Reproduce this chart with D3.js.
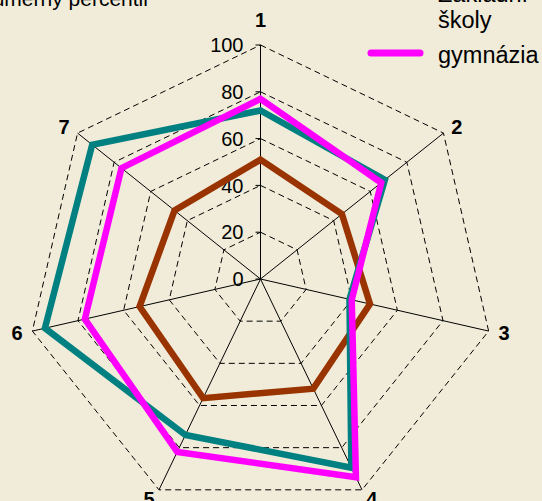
<!DOCTYPE html>
<html>
<head>
<meta charset="utf-8">
<script src="https://cdn.jsdelivr.net/npm/d3@7"></script>
<style>
  html, body { margin: 0; padding: 0; background: #f0ecd9; overflow: hidden; }
  svg { display: block; font-family: "Liberation Sans", Arial, sans-serif; }
</style>
</head>
<body>
<svg width="542" height="501"></svg>
<script>
const axes = ['1', '2', '3', '4', '5', '6', '7']
const ticks = [0, 20, 40, 60, 80, 100]
const seriesNames = ['celkem', 'Základní školy', 'gymnázia']
const seriesColors = ['#993300', '#008080', '#ff00ff']
const celkem = [51, 44.5, 48, 52, 56.5, 53, 47]
const zakladni = [72, 68, 39, 89.5, 74, 94.5, 92]
const gymnazia = [77, 66, 40, 94, 82, 77, 76]
const yTitle = 'průměrný percentil'

const svg = d3.select('svg')
const cx = 260.5, cy = 279

const rScale = d3.scaleLinear()
    .domain([0, 100])
    .range([0, 234])

const aScale = d3.scaleLinear()
    .domain([0, axes.length])
    .range([0, 2 * Math.PI])

const pt = (i, v) => [cx + rScale(v) * Math.sin(aScale(i)), cy - rScale(v) * Math.cos(aScale(i))]

// dashed rings
ticks.slice(1).forEach(t => {
  svg.append('path')
      .attr('d', d3.line()(axes.map((a, i) => pt(i, t))) + 'Z')
      .attr('fill', 'none')
      .attr('stroke', '#000')
      .attr('stroke-width', 1)
      .attr('stroke-dasharray', '6,4')
})

// spokes
axes.forEach((a, i) => {
  const [x, y] = pt(i, 100)
  svg.append('line')
      .attr('x1', cx).attr('y1', cy)
      .attr('x2', x).attr('y2', y)
      .attr('stroke', '#000')
      .attr('stroke-width', 1)
})

// value ticks on first axis
ticks.forEach(t => {
  const y = cy - rScale(t)
  svg.append('line')
      .attr('x1', cx - 5).attr('x2', cx)
      .attr('y1', y).attr('y2', y)
      .attr('stroke', '#000')
  svg.append('text')
      .attr('x', cx - 17)
      .attr('y', y)
      .attr('dy', '0.36em')
      .attr('text-anchor', 'end')
      .attr('font-size', 20)
      .attr('fill', '#000')
      .text(t)
})

// category labels
axes.forEach((a, i) => {
  const s = Math.sin(aScale(i)), c = Math.cos(aScale(i))
  const off = Math.abs(s) < 0.1 ? 25 : 10
  const [x, y] = pt(i, 100)
  svg.append('text')
      .attr('x', x + off * s)
      .attr('y', y - off * c)
      .attr('dy', '0.36em')
      .attr('text-anchor', s > 0.1 ? 'start' : (s < -0.1 ? 'end' : 'middle'))
      .attr('font-size', 20)
      .attr('font-weight', 'bold')
      .text(a)
})

// series
const lineGen = d3.line()
    .x(d => d[0])
    .y(d => d[1])

;[celkem, zakladni, gymnazia].forEach((vals, k) => {
  svg.append('path')
      .attr('d', lineGen(vals.map((v, i) => pt(i, v))) + 'Z')
      .attr('fill', 'none')
      .attr('stroke', seriesColors[k])
      .attr('stroke-width', 6.5)
      .attr('stroke-linejoin', 'miter')
})

// y title (cut off at top)
svg.append('text')
    .attr('x', -26)
    .attr('y', 6)
    .attr('font-size', 21)
    .text(yTitle)

// legend (top part is outside the view)
const legend = svg.append('g')
const legendY = [-60, -14, 53]
seriesNames.forEach((name, k) => {
  legend.append('line')
      .attr('x1', 371).attr('x2', 420)
      .attr('y1', legendY[k]).attr('y2', legendY[k])
      .attr('stroke', seriesColors[k])
      .attr('stroke-width', 7)
      .attr('stroke-linecap', 'round')
})
const legendText = legend.append('g').attr('font-size', 23.5)
legendText.append('text').attr('x', 438).attr('y', -50).text('celkem')
legendText.append('text').attr('x', 438).attr('y', 2).text('Základní')
legendText.append('text').attr('x', 438).attr('y', 28).text('školy')
legendText.append('text').attr('x', 438).attr('y', 63).text(seriesNames[2])
</script>
</body>
</html>
